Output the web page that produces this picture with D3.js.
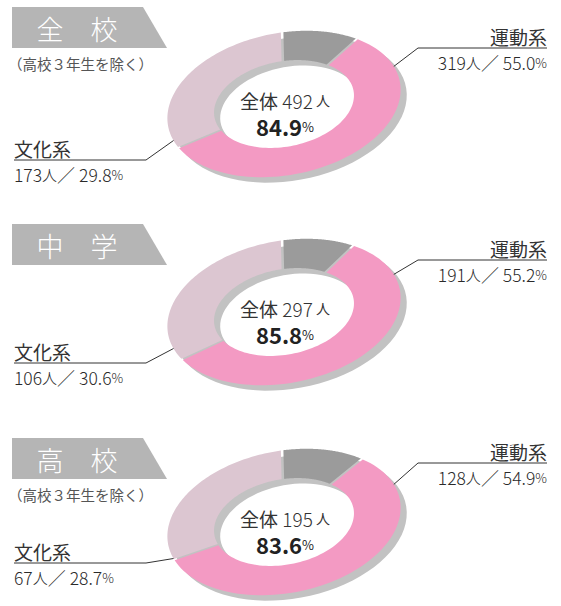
<!DOCTYPE html>
<html>
<head>
<meta charset="utf-8">
<script src="https://cdn.jsdelivr.net/npm/d3@7"></script>
<style>
  body { margin: 0; background: #fff; }
  svg text { font-family: "Noto Sans CJK JP", "Noto Sans", sans-serif; }
</style>
</head>
<body>
<div id="chart"></div>
<script>
const panelNames = ["全　校", "中　学", "高　校"];
const panelNotes = ["（高校３年生を除く）", "", "（高校３年生を除く）"];
const totals = [492, 297, 195];
const joinRates = [84.9, 85.8, 83.6];
const sportsCounts = [319, 191, 128];
const sportsRates = [55.0, 55.2, 54.9];
const cultureCounts = [173, 106, 67];
const cultureRates = [29.8, 30.6, 28.7];

const W = 561, H = 606;
const colors = {none: "#9b9b9b", sports: "#f39ac3", culture: "#dcc6d1"};

// where each panel sits
const layout = [
  {top: 7,   cy: 104, rightY: 48,  leftY: 160},
  {top: 224, cy: 312, rightY: 260, leftY: 363},
  {top: 438, cy: 522, rightY: 463, leftY: 563}
];
const cx = 284, rx = 118, ry = 71, inner = 0.6, rot = -11;
const rad = Math.PI / 180;

// perspective-ish warp of the ring angles (far side is upper right)
const beta = 45 * rad, squeeze = 0.7;
const warp = a => {
  const h = (a - beta) / 2;
  return beta + 2 * Math.atan2(squeeze * Math.sin(h), Math.cos(h));
};
const ellipse = (psi, r) => [rx * r * Math.sin(psi), -ry * r * Math.cos(psi)];
const rotated = (p) => {
  const c = Math.cos(rot * rad), s = Math.sin(rot * rad);
  return [p[0] * c - p[1] * s, p[0] * s + p[1] * c];
};

const closed = d3.line().curve(d3.curveLinearClosed);

function ringPath(a0, a1, gap) {
  const v0 = warp(a0), v1 = warp(a1);
  const o0 = v0 + gap / 2, o1 = v1 - gap / 2;
  const i0 = v0 + gap / (2 * inner), i1 = v1 - gap / (2 * inner);
  const pts = [];
  d3.range(0, 81).forEach(i => pts.push(ellipse(o0 + (o1 - o0) * i / 80, 1)));
  d3.range(80, -1, -1).forEach(i => pts.push(ellipse(i0 + (i1 - i0) * i / 80, inner)));
  return closed(pts);
}

const startAngle = -9 * rad;
const pie = d3.pie().sort(null).value(d => d.value)
  .startAngle(startAngle).endAngle(startAngle + 2 * Math.PI);

const svg = d3.select("#chart").append("svg")
  .attr("width", W).attr("height", H)
  .attr("viewBox", `0 0 ${W} ${H}`);

function numberLine(sel, count, rate) {
  sel.append("tspan").attr("font-size", 17.5).attr("font-weight", 300).text(count);
  sel.append("tspan").attr("font-size", 15).attr("font-weight", 300).text("人");
  sel.append("tspan").attr("font-size", 18).attr("font-weight", 300).text("／ ");
  sel.append("tspan").attr("font-size", 17.5).attr("font-weight", 300).text(d3.format(".1f")(rate));
  sel.append("tspan").attr("font-size", 13).attr("font-weight", 300).text("%");
}

panelNames.forEach((name, i) => {
  const L = layout[i];
  const g = svg.append("g");

  // banner
  g.append("path")
    .attr("d", `M12,${L.top}H143L167,${L.top + 41}H12Z`)
    .attr("fill", "#b5b5b5");
  g.append("text")
    .attr("x", 77).attr("y", L.top + 21)
    .attr("text-anchor", "middle").attr("dominant-baseline", "central")
    .attr("fill", "#fff").attr("font-size", 27).attr("font-weight", 300)
    .text(name);
  if (panelNotes[i]) {
    g.append("text")
      .attr("x", 8).attr("y", L.top + 56)
      .attr("dominant-baseline", "central")
      .attr("fill", "#555").attr("font-size", 14.5)
      .text(panelNotes[i]);
  }

  // donut
  const slices = pie([
    {key: "none", value: 100 - joinRates[i]},
    {key: "sports", value: sportsRates[i]},
    {key: "culture", value: cultureRates[i]}
  ]);
  const donut = g.append("g")
    .attr("transform", `translate(${cx},${L.cy}) rotate(${rot})`);

  donut.append("path")
    .attr("transform", "translate(5,6.5)")
    .attr("d", ringPath(startAngle, startAngle + 2 * Math.PI, 0))
    .attr("fill", "#c2c2c2");

  donut.selectAll("path.slice")
    .data(slices)
    .join("path")
    .attr("class", "slice")
    .attr("d", d => ringPath(d.startAngle, d.endAngle, 0.022))
    .attr("fill", d => colors[d.data.key]);

  // centre text
  const t1 = g.append("text")
    .attr("x", cx + 1).attr("y", L.cy - 4)
    .attr("text-anchor", "middle").attr("dominant-baseline", "central")
    .attr("fill", "#333");
  t1.append("tspan").attr("font-size", 19).text("全体 ");
  t1.append("tspan").attr("font-size", 19).attr("font-weight", 300).text(totals[i]);
  t1.append("tspan").attr("font-size", 14).text(" 人");

  const t2 = g.append("text")
    .attr("x", cx + 1).attr("y", L.cy + 22)
    .attr("text-anchor", "middle").attr("dominant-baseline", "central")
    .attr("fill", "#222");
  t2.append("tspan").attr("font-size", 22).attr("font-weight", 700).text(d3.format(".1f")(joinRates[i]));
  t2.append("tspan").attr("font-size", 13).text("%");

  // right label (sports)
  const pr = rotated(ellipse(77 * rad, 1.0));
  g.append("path")
    .attr("d", `M547,${L.rightY}H418L${cx + pr[0]},${L.cy + pr[1]}`)
    .attr("fill", "none").attr("stroke", "#333").attr("stroke-width", 1);
  g.append("text")
    .attr("x", 547).attr("y", L.rightY - 12)
    .attr("text-anchor", "end").attr("dominant-baseline", "central")
    .attr("fill", "#333").attr("font-size", 19)
    .text("運動系");
  numberLine(g.append("text")
    .attr("x", 547).attr("y", L.rightY + 14)
    .attr("text-anchor", "end").attr("dominant-baseline", "central")
    .attr("fill", "#2a2a2a"), sportsCounts[i], sportsRates[i]);

  // left label (culture)
  const pl = rotated(ellipse(258 * rad, 1.0));
  g.append("path")
    .attr("d", `M14,${L.leftY}H146L${cx + pl[0]},${L.cy + pl[1]}`)
    .attr("fill", "none").attr("stroke", "#333").attr("stroke-width", 1);
  g.append("text")
    .attr("x", 14).attr("y", L.leftY - 12)
    .attr("dominant-baseline", "central")
    .attr("fill", "#333").attr("font-size", 19)
    .text("文化系");
  numberLine(g.append("text")
    .attr("x", 14).attr("y", L.leftY + 14)
    .attr("dominant-baseline", "central")
    .attr("fill", "#2a2a2a"), cultureCounts[i], cultureRates[i]);
});
</script>
</body>
</html>
